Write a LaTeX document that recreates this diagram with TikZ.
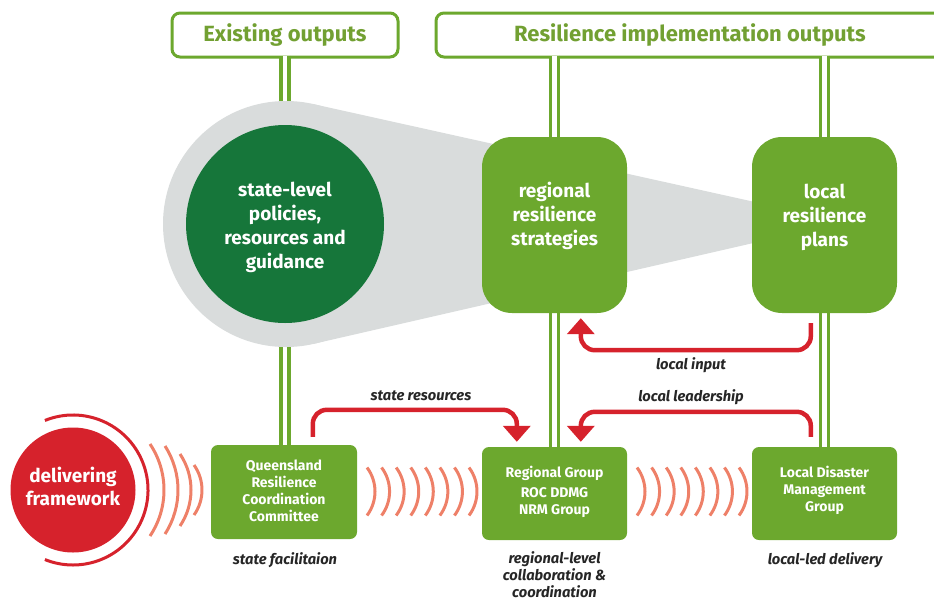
\documentclass[tikz,border=0pt]{standalone}
\usepackage{fontspec}
\setmainfont{Fira Sans}
\usetikzlibrary{arrows.meta,calc}
\definecolor{lgreen}{RGB}{108,168,46}
\definecolor{tgreen}{RGB}{114,160,50}
\definecolor{dgreen}{RGB}{22,118,58}
\definecolor{qred}{RGB}{214,34,44}
\definecolor{salmon}{RGB}{238,128,104}
\definecolor{cgray}{RGB}{217,220,220}
\pgfdeclarelayer{back}
\pgfdeclarelayer{pipes}
\pgfsetlayers{back,pipes,main}
\newcommand\wavearc[4]{%
  \pgfmathsetmacro\wvR{((#3)*(#3)+(#4)*(#4))/(2*(#4))}%
  \pgfmathsetmacro\wvT{asin((#3)/\wvR)}%
  \draw[wave] (#1-\wvR,#2) ++(-\wvT:\wvR) arc[start angle=-\wvT, end angle=\wvT, radius=\wvR];}
\begin{document}
\begin{tikzpicture}[x=1pt,y=-1pt,
  topbox/.style={draw=lgreen, line width=3pt, rounded corners=8pt, fill=white,
    minimum height=44pt, text=tgreen, inner sep=0pt,
    font=\bfseries\fontsize{22}{24}\selectfont},
  bigbox/.style={fill=lgreen, rounded corners=30pt, minimum width=145pt,
    minimum height=176pt, inner sep=0pt},
  lowbox/.style={fill=lgreen, rounded corners=7pt, minimum width=145pt,
    minimum height=93pt, inner sep=0pt},
  bigtext/.style={text=white, align=center, inner sep=0pt,
    font=\bfseries\fontsize{19}{24}\selectfont},
  lowtext/.style={text=white, align=center, inner sep=0pt,
    font=\bfseries\fontsize{14}{17}\selectfont},
  lbl/.style={align=center, inner sep=0pt, text=black!85,
    font=\bfseries\itshape\fontsize{14.7}{17}\selectfont},
  pipe/.style={draw=lgreen, double=white, line width=3.5pt, double distance=4.5pt},
  redarrow/.style={draw=qred, line width=4.5pt, rounded corners=14pt,
    -{Triangle[width=27pt,length=16pt]}},
  wave/.style={draw=salmon, line width=3pt},
]
\useasboundingbox (0,0) rectangle (934,600);

% header boxes
\begin{pgfonlayer}{back}
\node[topbox, minimum width=226pt] (exist) at (285,35) {Existing outputs};
\node[topbox, minimum width=508pt] (resil) at (690,35) {Resilience implementation outputs};
\end{pgfonlayer}

% grey cone
\node[circle, fill=cgray, minimum size=246pt, inner sep=0pt, outer sep=0pt] (cone) at (286,224) {};
\coordinate (apex) at (845,222);
\fill[cgray] (apex) -- (tangent cs:node=cone,point={(apex)},solution=1)
  -- (cone.center) -- (tangent cs:node=cone,point={(apex)},solution=2) -- cycle;

% outputs
\node[circle, fill=dgreen, minimum size=198pt, inner sep=0pt] (state) at (285,224) {};
\node[bigtext] (statetext) at ([yshift=-3pt]state.center)
  {state-level\\policies,\\resources and\\guidance};
\node[bigbox] (strat) at (554.5,225) {};
\node[bigtext] (strattext) at ([yshift=9pt]strat.center) {regional\\resilience\\strategies};
\node[bigbox] (plans) at (824.5,225) {};
\node[bigtext] (planstext) at ([yshift=8pt]plans.center) {local\\resilience\\plans};

% delivery row
\node[lowbox, minimum width=146pt, minimum height=94pt] (qrcc) at (284,492) {};
\node[lowtext] (qrcctext) at ([yshift=1pt]qrcc.center) {Queensland\\Resilience\\Coordination\\Committee};
\node[lowbox] (reggroup) at (554.5,493.5) {};
\node[lowtext] (regtext) at ([yshift=2pt]reggroup.center) {Regional Group\\[3pt]ROC DDMG\\NRM Group};
\node[lowbox] (ldmg) at (824.5,493.5) {};
\node[lowtext] (ldmgtext) at ([yshift=3pt]ldmg.center) {Local Disaster\\Management\\Group};

% pipes
\begin{pgfonlayer}{pipes}
\draw[pipe] ([yshift=3pt]exist.south) -- (exist.south |- qrcc.north);
\draw[pipe] ([yshift=3pt]resil.south -| reggroup.north) -- (reggroup.north);
\draw[pipe] ([yshift=3pt]resil.south -| ldmg.north) -- (ldmg.north);
\end{pgfonlayer}

% delivering framework
\node[circle, fill=qred, minimum size=125pt, inner sep=0pt] (deliver) at (73,490) {};
\node[text=white, align=center, inner sep=0pt,
  font=\bfseries\fontsize{19}{23}\selectfont] (delivertext)
  at ([yshift=4pt]deliver.center) {delivering\\framework};
\draw[qred, line width=3pt] (deliver.center) ++(-112:75) arc[start angle=-112, end angle=112, radius=75];

% waves
\wavearc{164}{490}{46}{14}
\wavearc{178}{490}{44}{13}
\wavearc{191}{490}{36}{11}
\wavearc{202}{490}{25}{8}
\foreach \i in {0,...,7} {\wavearc{375+14.57*\i}{491.5}{24}{8}}
\foreach \i in {0,...,7} {\wavearc{645+14.57*\i}{491.5}{24}{8}}

% red arrows
\coordinate (srA) at ($(qrcc.north west)+(102,-8)$);
\coordinate (srB) at ($(reggroup.north west)+(35,-5)$);
\draw[redarrow] (srA) |- ($(srB)+(0,-32)$) -- (srB);
\coordinate (llA) at ($(ldmg.north west)+(59,-10)$);
\coordinate (llB) at ($(reggroup.north west)+(99,-5)$);
\draw[redarrow] (llA) |- ($(llB)+(0,-30)$) -- (llB);
\coordinate (liA) at ($(plans.south west)+(59,10)$);
\coordinate (liB) at ($(strat.south west)+(99,5)$);
\draw[redarrow] (liA) |- ($(liB)+(0,32)$) -- (liB);

% labels
\node[lbl] (lsr) at (421,396) {state resources};
\node[lbl] (lll) at (691,397) {local leadership};
\node[lbl] (lli) at (691,365) {local input};
\node[lbl] (lsf) at (285,560) {state facilitaion};
\node[lbl] (lrl) at (554.5,575) {regional-level\\collaboration \&\\coordination};
\node[lbl] (lld) at (825,560) {local-led delivery};
\end{tikzpicture}
\end{document}
